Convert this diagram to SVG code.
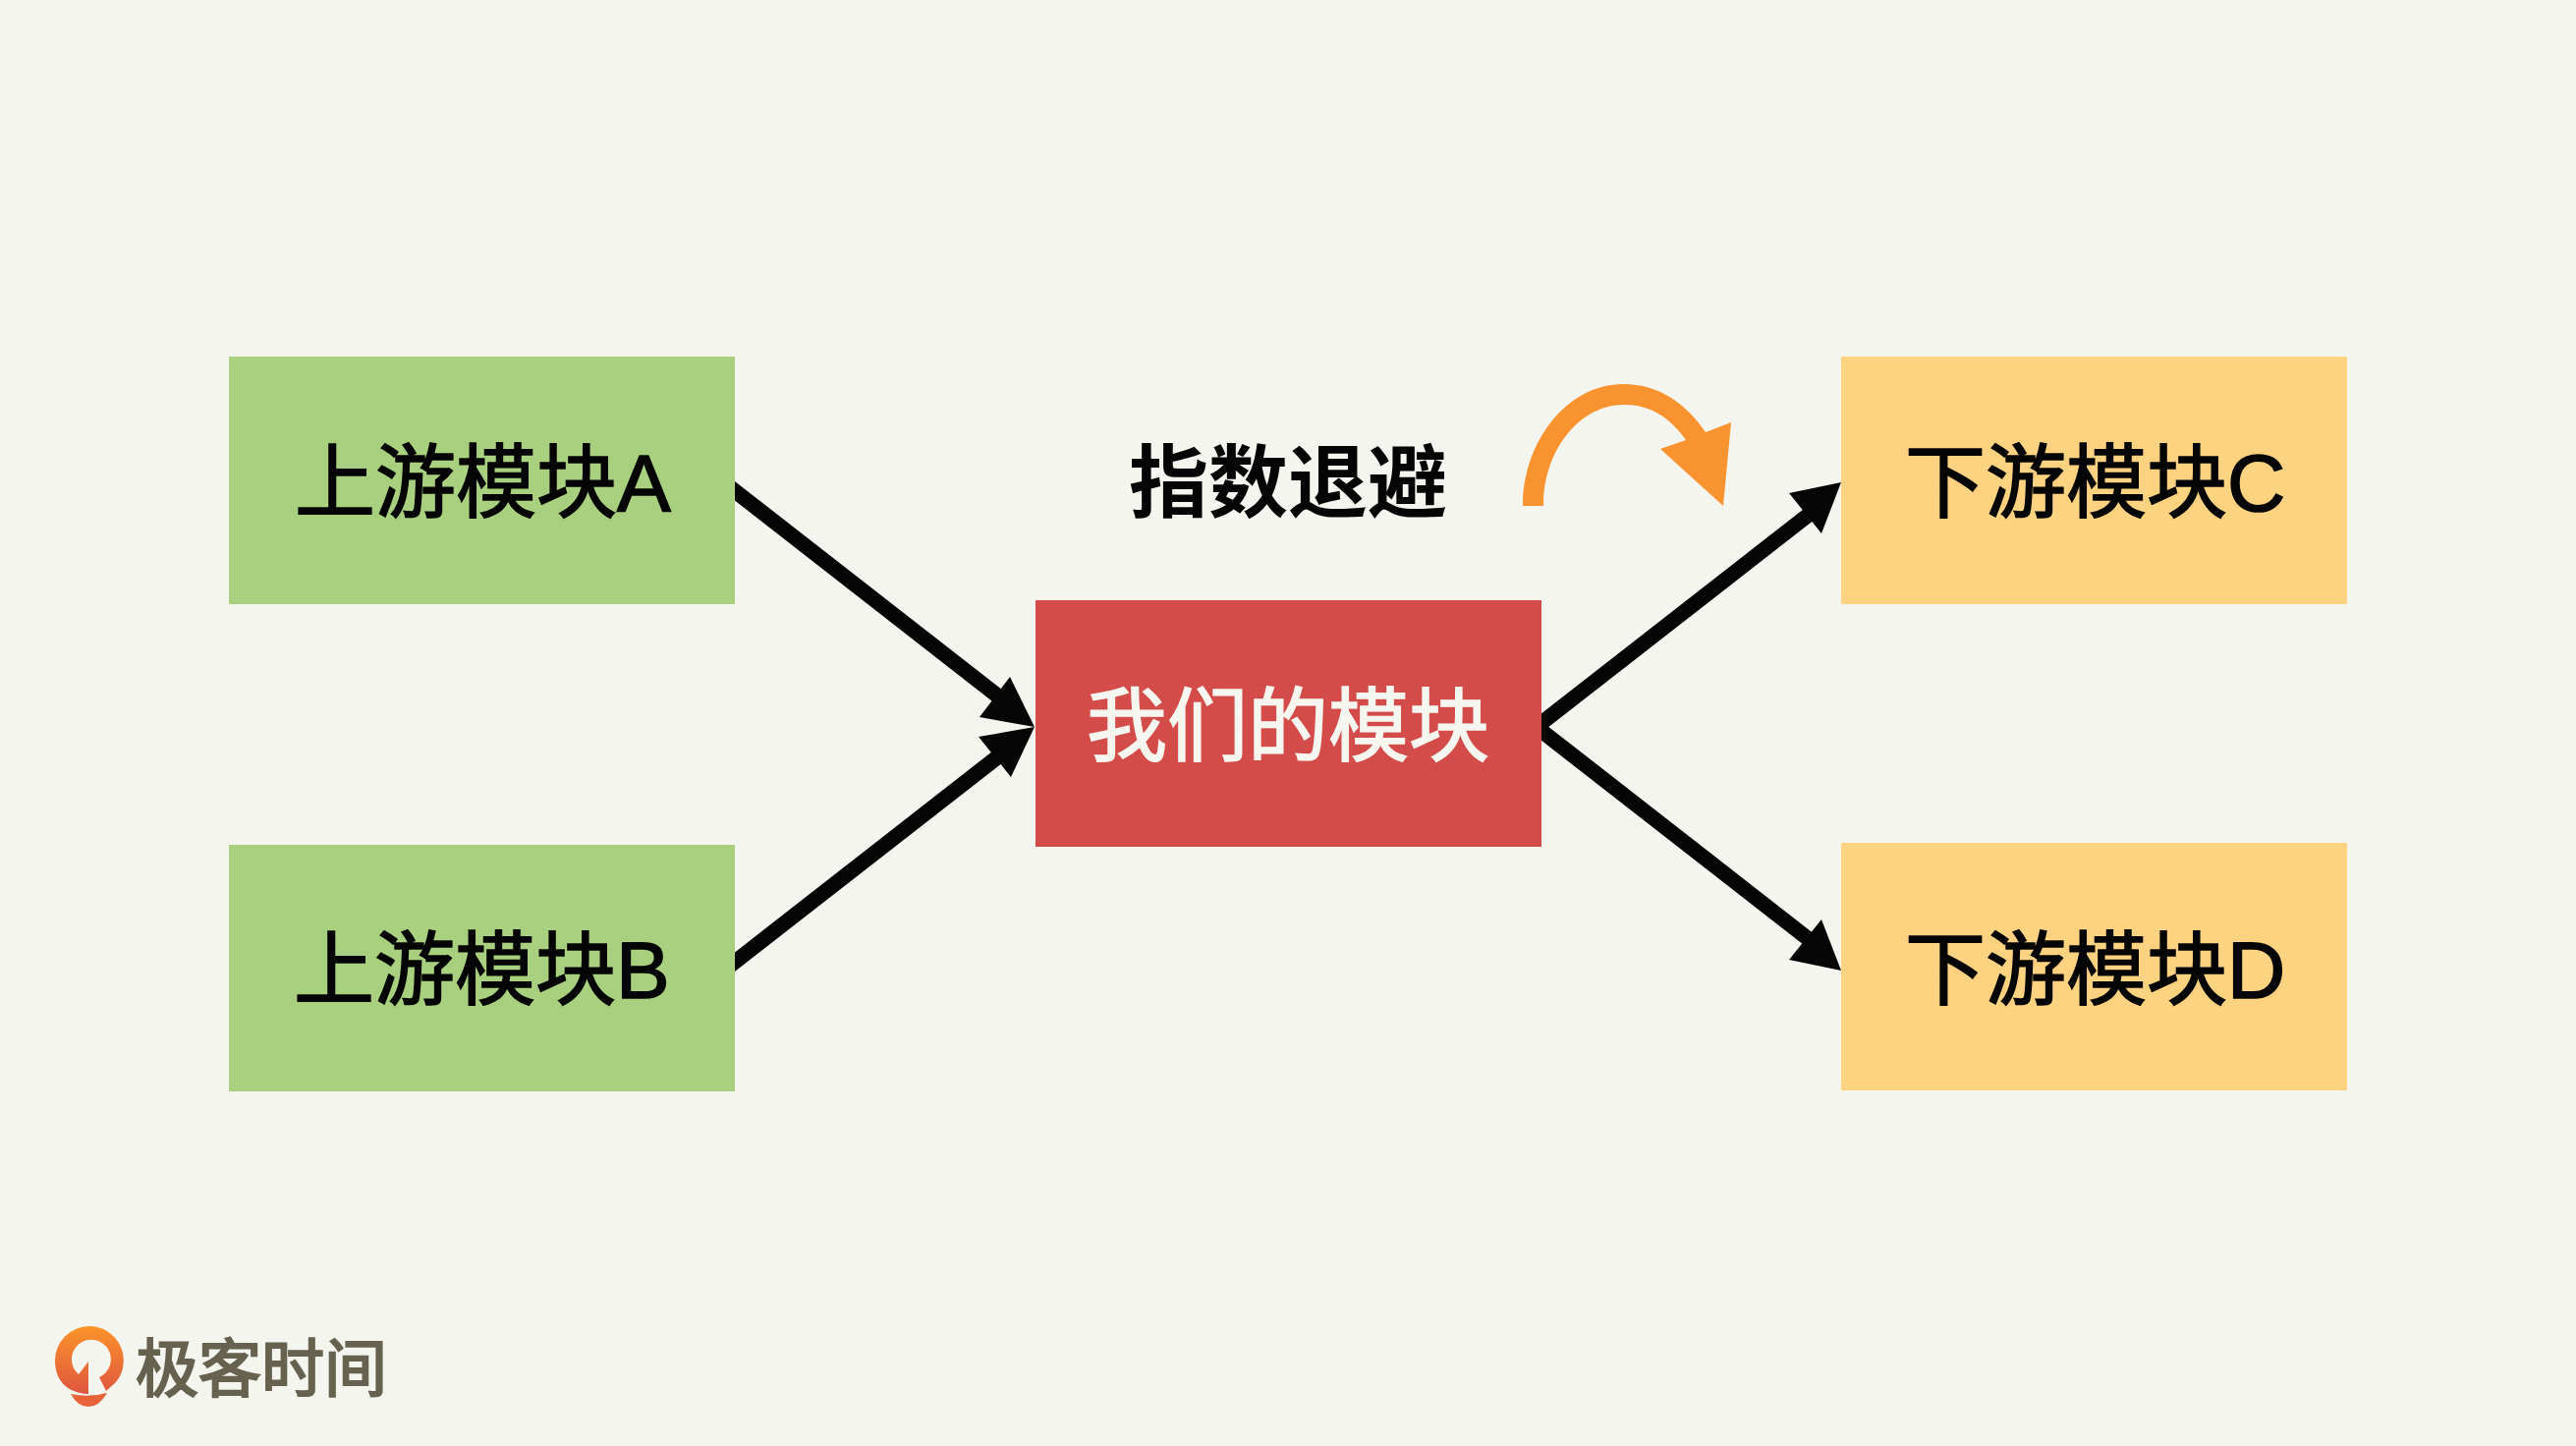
<svg xmlns="http://www.w3.org/2000/svg" width="2622" height="1472" viewBox="0 0 2622 1472">
<style>
text{font-family:"Liberation Sans","Noto Sans CJK SC",sans-serif;font-size:82px;fill:#050505;stroke:#050505;stroke-width:1.6px}
.g{fill:#a9d07f}.o{fill:#fdd281}.r{fill:#d44c4a}
.l{stroke:#050505;stroke-width:15.5;fill:none}.h{fill:#050505}
</style>
<defs><linearGradient id="lg" x1="0" y1="0" x2="0" y2="1"><stop offset="0" stop-color="#fb942a"/><stop offset="1" stop-color="#e0563f"/></linearGradient></defs>
<rect width="2622" height="1472" fill="#f4f5ef"/>
<g id="connectors">
<path class="l" d="M738 492L1020 712"/><path class="h" d="M1053 740L1028 689L997 730Z"/>
<path class="l" d="M738 987L1020 767"/><path class="h" d="M1053 740L1029 791L996 750Z"/>
<path class="l" d="M1560 743L1846 520"/><path class="h" d="M1874 491L1821 502L1854 543Z"/>
<path class="l" d="M1560 737L1846 960"/><path class="h" d="M1874 988L1821 977L1854 936Z"/>
</g>
<g id="node-a"><rect class="g" x="233" y="363" width="515" height="252"/><text x="300" y="520">上游模块A</text></g>
<g id="node-b"><rect class="g" x="233" y="860" width="515" height="251"/><text x="299" y="1016">上游模块B</text></g>
<g id="node-self"><rect class="r" x="1054" y="611" width="515" height="251"/><text x="1106" y="768" style="fill:#f5f6f0;stroke:#f5f6f0">我们的模块</text></g>
<g id="node-c"><rect class="o" x="1874" y="363" width="515" height="252"/><text x="1939" y="520">下游模块C</text></g>
<g id="node-d"><rect class="o" x="1874" y="858" width="515" height="252"/><text x="1939" y="1016">下游模块D</text></g>
<g id="label-backoff"><text x="1149" y="520" style="font-weight:700;stroke:none;font-size:81px">指数退避</text></g>
<path id="backoff-arrow" fill="#f9932f" d="M1550 515C1550 450 1595 391 1652 391C1690 391 1717 412 1736 440L1762 430L1754 515L1690 457L1716 448C1700 425 1680 412 1653 412C1608 412 1571 458 1571 515Z"/>
<g id="logo">
<path fill="url(#lg)" fill-rule="evenodd" d="M91 1350A35 35 0 0 1 118 1407L108 1416L101 1402A20 20 0 1 0 80 1399L90 1386V1419C66 1418 56 1403 56 1385A35 35 0 0 1 91 1350Z"/>
<path fill="#e8633a" d="M72 1419Q90 1423 109 1418Q101 1432 90 1432Q79 1432 72 1419Z"/>
<text x="138" y="1416" style="font-size:64px;fill:#66624f;stroke:#66624f;stroke-width:2.2px">极客时间</text>
</g>
</svg>
